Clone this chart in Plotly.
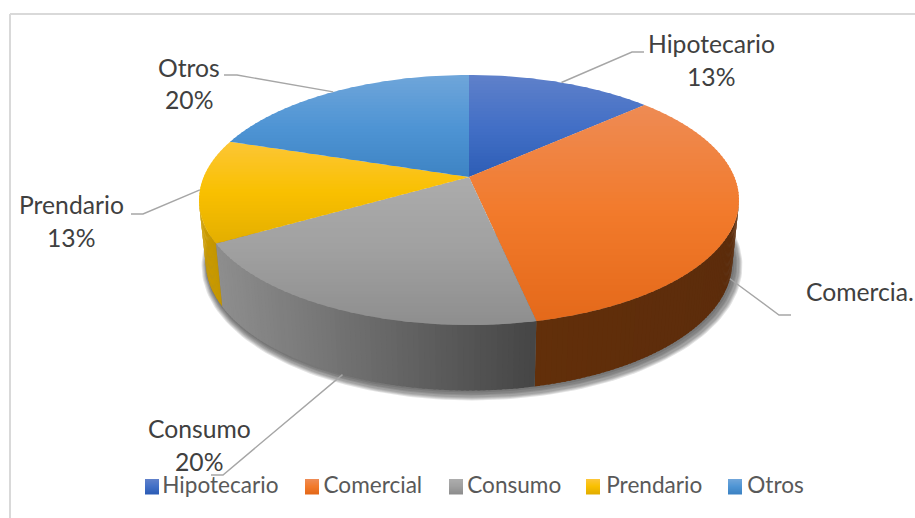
import math
import plotly.graph_objects as go

# ---- data ----
categories = ["Hipotecario", "Comercial", "Consumo", "Prendario", "Otros"]
values = [13.33, 33.33, 20, 13.33, 20]
label_names = ["Hipotecario", "Comercia.", "Consumo", "Prendario", "Otros"]
show_percent = [True, False, True, True, True]

# ---- styles ----
top_light = ["#5f80ca", "#ee8b54", "#acacac", "#fcc636", "#6fa5da"]
top_mid = ["#4370c6", "#f27a2b", "#a0a0a0", "#f9c000", "#4f95d4"]
top_dark = ["#2d5db6", "#e4691a", "#8e8e8e", "#e3ae00", "#3d83c4"]
wall_left = ["#33558f", "#622f0a", "#8e8e8e", "#cc9c00", "#3d6f9f"]
wall_right = ["#33558f", "#5c2c0b", "#454545", "#c49600", "#3d6f9f"]
swatch_left = [145, 305, 449, 586, 728]
LABEL_FONT = "Lato"

CX, CY = 469.0, 177.0      # apex of the pie on the page
R, H, K = 265.4, 120.8, 0.184
WALL_DX, WALL_DY, WALL_SY = 0.975, 61.0, 1.03
STEP_LIMIT = math.degrees(math.acos(-K))  # silhouette angle

def top_pt(deg):
    t = math.radians(deg)
    s = 1 / (1 + K * math.cos(t))
    return CX + R * math.sin(t) * s, CY - H * math.cos(t) * s

def low_pt(deg, grow=0.0, ox=0.0, oy=0.0):
    x, y = top_pt(deg)
    return (CX + (WALL_DX + grow / 265) * (x - CX) + ox,
            CY + (WALL_SY + grow / 150) * (y - CY) + WALL_DY + oy)

def hex2rgb(c):
    return tuple(int(c[i:i + 2], 16) for i in (1, 3, 5))

def mix(a, b, f):
    a, b = hex2rgb(a), hex2rgb(b)
    return "rgb(%d,%d,%d)" % tuple(round(a[i] + (b[i] - a[i]) * f) for i in range(3))

def ramp(i, f):
    return mix(top_light[i], top_mid[i], f * 2) if f < .5 else mix(top_mid[i], top_dark[i], f * 2 - 1)

def clip_band(poly, y0, y1):
    def clip(p, keep, cross):
        out = []
        for i in range(len(p)):
            a, b = p[i], p[(i + 1) % len(p)]
            if keep(a):
                out.append(a)
            if keep(a) != keep(b):
                f = (cross - a[1]) / (b[1] - a[1])
                out.append((a[0] + (b[0] - a[0]) * f, cross))
        return out
    p = clip(poly, lambda q: q[1] >= y0, y0)
    if p:
        p = clip(p, lambda q: q[1] <= y1, y1)
    return p

fig = go.Figure()

def add_poly(pts, color, name=None):
    xs = [p[0] for p in pts] + [pts[0][0]]
    ys = [p[1] for p in pts] + [pts[0][1]]
    fig.add_trace(go.Scatter(x=xs, y=ys, mode="lines", fill="toself", fillcolor=color,
                             line=dict(width=0), hoverinfo="skip", showlegend=False))

total = sum(values)
edges = [0.0]
for v in values:
    edges.append(edges[-1] + 360.0 * v / total)

# soft shadow around the wall
for g, ox, oy in [(7, 3, 3), (6, 3, 3), (5, 3, 3), (4, 3, 3), (3, 2, 2), (2, 2, 2), (1, 1, 1)]:
    deg = [STEP_LIMIT - 14 + i * (360 - 2 * STEP_LIMIT + 28) / 120 for i in range(121)]
    add_poly([low_pt(d, g, ox, oy) for d in deg], "rgba(40,40,40,0.13)")

# side walls
for i, v in enumerate(values):
    a = max(edges[i], STEP_LIMIT)
    b = min(edges[i + 1], 360 - STEP_LIMIT)
    if b <= a:
        continue
    n = max(2, int((b - a) / 1.0))
    for j in range(n):
        d0 = a + (b - a) * j / n
        d1 = a + (b - a) * (j + 1) / n
        ov = min(b, d1 + 0.5)
        # the gradient runs left to right on the page
        xm = top_pt((d0 + d1) / 2)[0]
        xa, xb = sorted((top_pt(a)[0], top_pt(b)[0]))
        col = mix(wall_left[i], wall_right[i], (xm - xa) / max(xb - xa, 1))
        add_poly([top_pt(d0), top_pt(ov), low_pt(ov), low_pt(d0)], col)

# top faces
for i, v in enumerate(values):
    a, b = edges[i], edges[i + 1]
    n = max(8, int(b - a))
    poly = [(CX, CY)] + [top_pt(a + (b - a) * j / n) for j in range(n + 1)]
    ymin, ymax = min(p[1] for p in poly), max(p[1] for p in poly)
    y = ymin
    while y < ymax:
        band = clip_band(poly, y, y + 4)
        if len(band) >= 3:
            add_poly(band, ramp(i, (y + 1.5 - ymin) / (ymax - ymin)))
        y += 3

# legend entries: gradient swatches beside the native legend's text
for i, c in enumerate(categories):
    fig.add_trace(go.Scatter(x=[None], y=[None], mode="markers", name=c,
                             marker=dict(symbol="square", size=14, color="rgba(0,0,0,0)"),
                             hoverinfo="skip"))
    for j in range(15):
        add_poly([(swatch_left[i], 479 + j), (swatch_left[i] + 14, 479 + j),
                  (swatch_left[i] + 14, 480.5 + j), (swatch_left[i], 480.5 + j)], ramp(i, j / 14))

# leader lines: they start on the rim at each slice's middle angle
elbows = [((632, 52), (644, 52)), ((779, 315), (791, 315)), ((223, 475), (211, 475)),
          ((143, 214), (131, 214)), ((237, 75), (224, 75))]
on_wall = [False, True, True, False, False]
shapes = [
    dict(type="line", x0=10, x1=915, y0=14, y1=14, line=dict(color="#d9d9d9", width=2), layer="below"),
    dict(type="line", x0=10, x1=10, y0=14, y1=518, line=dict(color="#d9d9d9", width=2), layer="below"),
]
for i, (e1, e2) in enumerate(elbows):
    mid = (edges[i] + edges[i + 1]) / 2
    x0, y0 = low_pt(mid) if on_wall[i] else top_pt(mid)
    shapes.append(dict(type="path", layer="above",
                       path=f"M{x0:.1f},{y0:.1f} L{e1[0]},{e1[1]} L{e2[0]},{e2[1]}",
                       line=dict(color="#a6a6a6", width=1.4)))

# data labels
anchors = [((711, 43), (711, 76)), ((860, 291), None), ((199, 428), (199, 461)),
           ((71, 204), (71, 237)), ((189, 67), (189, 99))]
ann = []
for i, (a1, a2) in enumerate(anchors):
    ann.append(dict(x=a1[0], y=a1[1], text=label_names[i], showarrow=False, xanchor="center",
                    yanchor="middle", font=dict(family=LABEL_FONT, size=24.7, color="#404040")))
    if show_percent[i]:
        ann.append(dict(x=a2[0], y=a2[1], text=f"{round(values[i])}%", showarrow=False, xanchor="center",
                        yanchor="middle", font=dict(family=LABEL_FONT, size=24.7, color="#404040")))

fig.update_layout(
    width=915, height=518, margin=dict(l=0, r=0, t=0, b=0),
    paper_bgcolor="white", plot_bgcolor="white",
    xaxis=dict(range=[0, 915], visible=False, fixedrange=True),
    yaxis=dict(range=[518, 0], visible=False, fixedrange=True),
    shapes=shapes, annotations=ann, hovermode=False,
    legend=dict(orientation="h", x=0.509, xanchor="center", y=0.0655, yanchor="middle",
                font=dict(family=LABEL_FONT, size=22.6, color="#595959"),
                bgcolor="rgba(0,0,0,0)", itemclick=False, itemdoubleclick=False),
)
fig.write_html("out.html", config=dict(displayModeBar=False),
               post_script="document.body.style.margin='0';document.documentElement.style.overflow='hidden';")
